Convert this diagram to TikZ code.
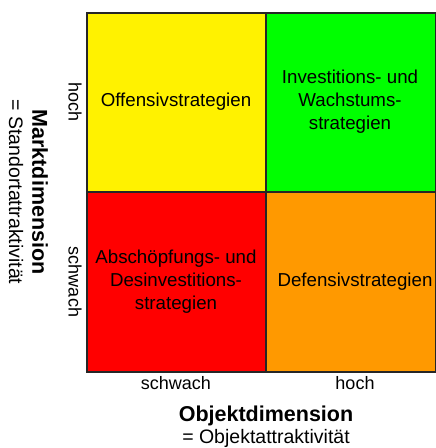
\documentclass[tikz,border=0pt]{standalone}
\usepackage{fontspec}
\setmainfont{Liberation Sans}
\definecolor{quadorange}{RGB}{255,153,0}
\begin{document}
\begin{tikzpicture}[x=1pt,y=-1pt,
  frame/.style={line width=1.2pt,black!85},
  celltext/.style={align=center,font=\fontsize{18.7}{23}\selectfont},
  axislabel/.style={font=\fontsize{18}{22}\selectfont},
  axistitle/.style={font=\fontsize{21.5}{24}\selectfont\bfseries},
  axissub/.style={font=\fontsize{19.5}{22}\selectfont}]
\useasboundingbox (0,0) rectangle (436,448);
% quadrants
\fill[yellow] (87,13) rectangle (266,192);
\fill[green] (266,13) rectangle (435.4,192);
\fill[red] (87,192) rectangle (266,372);
\fill[quadorange] (266,192) rectangle (435.4,372);
\draw[frame] (87,13) rectangle (435.4,372);
\draw[frame] (266,13) -- (266,372);
\draw[frame] (87,192) -- (435.4,192);
% quadrant texts
\node[celltext] (q1) at (176,102) {Offensivstrategien};
\node[celltext] (q2) at (350,102) {Investitions- und\\Wachstums-\\strategien};
\node[celltext] (q3) at (176,282) {Abschöpfungs- und\\Desinvestitions-\\strategien};
\node[celltext] (q4) at (355,282) {Defensivstrategien};
% axis tick labels
\node[axislabel,rotate=-90] (yh) at (75,102) {hoch};
\node[axislabel,rotate=-90] (ys) at (75,282) {schwach};
\node[axislabel] (xs) at (176,383) {schwach};
\node[axislabel] (xh) at (355,383) {hoch};
% axis titles
\node[axistitle,rotate=-90] (yt) at (40,192) {Marktdimension};
\node[axissub,rotate=-90] (ysub) at (16,192) {= Standortattraktivität};
\node[axistitle] (xt) at (266,416) {Objektdimension};
\node[axissub] (xsub) at (266,438) {= Objektattraktivität};
\end{tikzpicture}
\end{document}
